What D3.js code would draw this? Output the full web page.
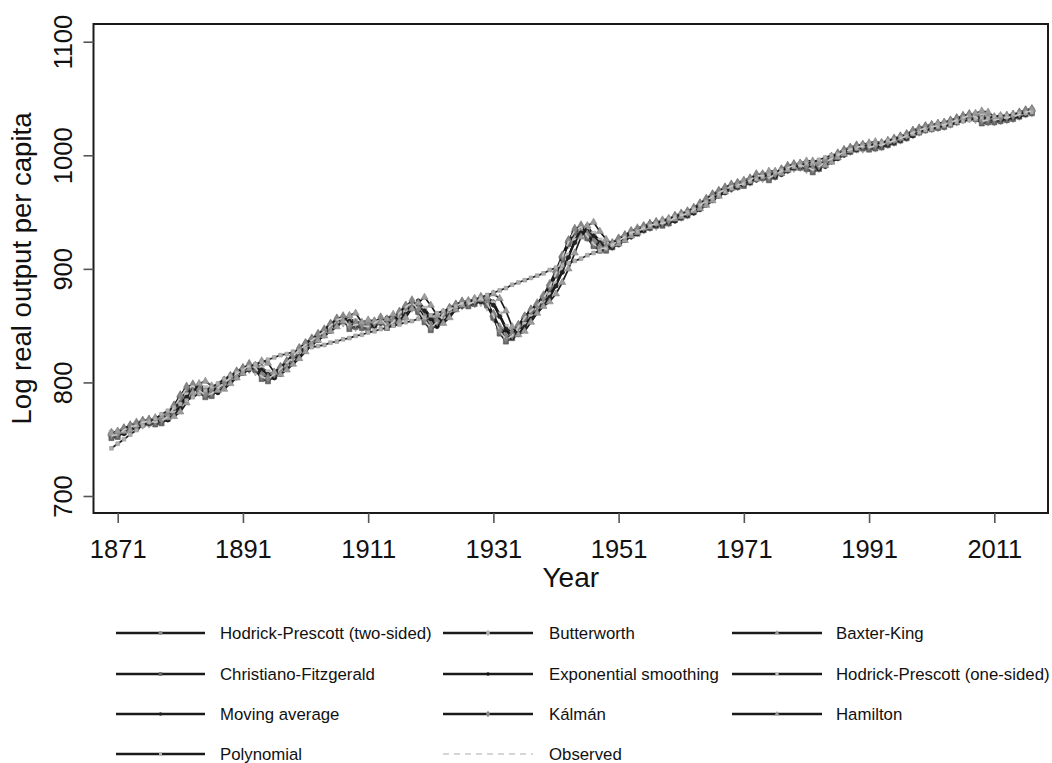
<!DOCTYPE html>
<html>
<head>
<meta charset="utf-8">
<script src="https://cdn.jsdelivr.net/npm/d3@7"></script>
<style>
  body { margin: 0; background: #fff; }
  svg { display: block; font-family: "Liberation Sans", Arial, sans-serif; }
</style>
</head>
<body>
<svg id="chart" width="1052" height="763"></svg>
<script>
// Years covered by every series
const years = d3.range(1870, 2018);

// Trend estimates of log real output per capita (x100)
const hpTwoSided = [
  754,755,758,760,763,764,765,766,767,771,
  778,787,793,795,793,791,791,795,800,804,
  808,811,813,811,807,805,807,812,817,823,
  828,833,837,841,845,850,854,854,852,850,
  850,850,852,853,853,855,860,866,867,863,
  856,852,854,859,864,867,869,870,871,872,
  868,858,847,841,843,849,856,862,868,875,
  885,897,910,923,932,933,929,923,919,919,
  921,925,928,931,934,936,938,939,941,942,
  945,947,949,952,956,960,964,967,970,972,
  974,976,978,981,981,982,983,986,989,990,
  991,989,989,990,994,997,1000,1003,1005,1007,
  1007,1008,1008,1009,1011,1013,1015,1017,1020,1022,
  1024,1025,1026,1027,1029,1031,1033,1034,1033,1032,
  1031,1031,1032,1033,1034,1036,1038,1039];

const butterworth = [
  753,754,757,759,762,763,764,765,766,770,
  777,786,792,794,792,790,790,794,799,803,
  807,810,812,810,806,804,806,811,816,822,
  827,832,836,840,844,849,853,853,851,849,
  849,849,851,852,852,854,859,865,866,862,
  855,851,853,858,863,866,868,869,870,871,
  867,857,846,840,842,848,855,861,867,874,
  884,896,909,922,931,932,928,922,918,918,
  920,924,927,930,933,935,937,938,940,941,
  944,946,948,951,955,959,963,966,969,971,
  973,975,977,980,980,981,982,985,988,989,
  990,988,988,989,993,996,999,1002,1004,1006,
  1006,1007,1007,1008,1010,1012,1014,1016,1019,1021,
  1023,1024,1025,1026,1028,1030,1032,1033,1032,1031,
  1030,1030,1031,1032,1033,1035,1037,1038];

const baxterKing = [
  756,757,760,762,765,766,767,768,769,773,
  780,789,795,797,795,793,793,797,802,806,
  810,813,815,813,809,807,809,814,819,825,
  830,835,839,843,847,852,856,856,854,852,
  852,852,854,855,855,857,862,868,869,865,
  858,854,856,861,866,869,871,872,873,874,
  870,860,849,843,845,851,858,864,870,877,
  887,899,912,925,934,935,931,925,921,921,
  923,927,930,933,936,938,940,941,943,944,
  947,949,951,954,958,962,966,969,972,974,
  976,978,980,983,983,984,985,988,991,992,
  993,991,991,992,996,999,1002,1005,1007,1009,
  1009,1010,1010,1011,1013,1015,1017,1019,1022,1024,
  1026,1027,1028,1029,1031,1033,1035,1036,1035,1034,
  1033,1033,1034,1035,1036,1038,1040,1041];

const christianoFitzgerald = [
  751,752,756,759,760,763,764,763,764,768,
  776,785,793,795,791,787,788,793,798,802,
  806,809,813,811,803,801,805,810,815,821,
  827,831,835,839,843,848,853,855,847,849,
  848,847,850,854,848,851,859,864,869,862,
  853,846,851,858,862,865,868,867,869,872,
  868,857,843,836,839,847,855,861,865,872,
  882,894,908,922,932,935,927,920,916,916,
  919,923,926,930,931,934,936,938,938,940,
  943,945,947,950,954,958,962,965,968,971,
  972,973,976,980,980,978,981,984,987,989,
  989,988,985,988,992,995,998,1001,1003,1005,
  1006,1005,1006,1007,1009,1011,1013,1015,1018,1020,
  1022,1023,1024,1025,1027,1029,1031,1033,1032,1028,
  1029,1029,1030,1031,1032,1034,1036,1037];

const expSmoothing = [
  753,754,755,759,762,763,766,767,766,767,
  771,779,788,796,798,794,790,791,796,801,
  805,809,812,816,814,806,804,808,813,818,
  824,830,834,838,842,846,851,856,858,850,
  852,851,850,853,857,851,854,862,867,872,
  865,856,849,854,861,865,868,871,870,872,
  875,871,860,846,839,842,850,858,864,868,
  875,885,897,911,925,935,938,930,923,919,
  919,922,926,929,933,934,937,939,941,941,
  943,946,948,950,953,957,961,965,968,971,
  974,975,976,979,983,983,981,984,987,990,
  992,992,991,988,991,995,998,1001,1004,1006,
  1008,1009,1008,1009,1010,1012,1014,1016,1018,1021,
  1023,1025,1026,1027,1028,1030,1032,1034,1036,1035,
  1031,1032,1032,1033,1034,1035,1037,1039];

const hpOneSided = [
  756,756,757,760,762,765,766,767,768,769,
  773,780,789,795,797,795,793,793,797,802,
  806,810,813,815,813,809,807,809,814,819,
  825,830,835,839,843,847,852,856,856,854,
  852,852,852,854,855,855,857,862,868,869,
  865,858,854,856,861,866,869,871,872,873,
  874,870,860,849,843,845,851,858,864,870,
  877,887,899,912,925,934,935,931,925,921,
  921,923,927,930,933,936,938,940,941,943,
  944,947,949,951,954,958,962,966,969,972,
  974,976,978,980,983,983,984,985,988,991,
  992,993,991,991,992,996,999,1002,1005,1007,
  1009,1009,1010,1010,1011,1013,1015,1017,1019,1022,
  1024,1026,1027,1028,1029,1031,1033,1035,1036,1035,
  1034,1033,1033,1034,1035,1036,1038,1040];

const movingAverage = [
  754,754,755,758,760,763,764,765,766,767,
  771,778,787,793,795,793,791,791,795,800,
  804,808,811,813,811,807,805,807,812,817,
  823,828,833,837,841,845,850,854,854,852,
  850,850,850,852,853,853,855,860,866,867,
  863,856,852,854,859,864,867,869,870,871,
  872,868,858,847,841,843,849,856,862,868,
  875,885,897,910,923,932,933,929,923,919,
  919,921,925,928,931,934,936,938,939,941,
  942,945,947,949,952,956,960,964,967,970,
  972,974,976,978,981,981,982,983,986,989,
  990,991,989,989,990,994,997,1000,1003,1005,
  1007,1007,1008,1008,1009,1011,1013,1015,1017,1020,
  1022,1024,1025,1026,1027,1029,1031,1033,1034,1033,
  1032,1031,1031,1032,1033,1034,1036,1038];

const kalman = [
  754,755,759,762,763,766,767,766,767,771,
  779,788,796,798,794,790,791,796,801,805,
  809,812,816,814,806,804,808,813,818,824,
  830,834,838,842,846,851,856,858,850,852,
  851,850,853,857,851,854,862,867,872,865,
  856,849,854,861,865,868,871,870,872,875,
  871,860,846,839,842,850,858,864,868,875,
  885,897,911,925,935,938,930,923,919,919,
  922,926,929,933,934,937,939,941,941,943,
  946,948,950,953,957,961,965,968,971,974,
  975,976,979,983,983,981,984,987,990,992,
  992,991,988,991,995,998,1001,1004,1006,1008,
  1009,1008,1009,1010,1012,1014,1016,1018,1021,1023,
  1025,1026,1027,1028,1030,1032,1034,1036,1035,1031,
  1032,1032,1033,1034,1035,1037,1039,1040];

const hamilton = [
  755,757,757,758,762,765,766,769,770,769,
  770,774,782,791,799,801,797,793,794,799,
  804,808,812,815,819,817,809,807,811,816,
  821,827,833,837,841,845,849,854,859,861,
  853,855,854,853,856,860,854,857,865,870,
  875,868,859,852,857,864,868,871,874,873,
  875,878,874,863,849,842,845,853,861,867,
  871,878,888,900,914,928,938,941,933,926,
  922,922,925,929,932,936,937,940,942,944,
  944,946,949,951,953,956,960,964,968,971,
  974,977,978,979,982,986,986,984,987,990,
  993,995,995,994,991,994,998,1001,1004,1007,
  1009,1011,1012,1011,1012,1013,1015,1017,1019,1021,
  1024,1026,1028,1029,1030,1031,1033,1035,1037,1039,
  1038,1034,1035,1035,1036,1037,1038,1040];

const polynomial = [
  742,746,750,754,758,762,765,768,772,775,
  778,781,784,787,790,793,796,799,803,806,
  809,811,814,816,818,820,822,824,825,827,
  828,830,831,832,833,835,836,838,839,841,
  842,844,845,847,848,850,851,853,854,856,
  857,859,861,863,865,867,869,871,873,875,
  877,879,881,883,886,888,890,892,894,896,
  899,901,903,905,907,909,912,914,916,918,
  921,924,928,931,933,936,938,940,942,944,
  946,948,950,953,956,959,962,965,968,971,
  973,975,977,979,981,983,985,987,988,990,
  991,993,994,996,998,1000,1001,1003,1005,1006,
  1008,1009,1010,1011,1013,1014,1016,1017,1019,1020,
  1022,1023,1025,1026,1027,1029,1030,1031,1032,1033,
  1033,1034,1035,1035,1036,1037,1037,1038];

// Observed log real output per capita (x100)
const observed = [
  753,754,758,761,762,765,766,765,766,770,
  778,787,795,797,793,789,790,795,800,804,
  808,811,815,813,805,803,807,812,817,823,
  829,833,837,841,845,850,855,857,849,851,
  850,849,852,856,850,853,861,866,871,864,
  855,848,853,860,864,867,870,869,871,874,
  870,859,845,838,841,849,857,863,867,874,
  884,896,910,924,934,937,929,922,918,918,
  921,925,928,932,933,936,938,940,940,942,
  945,947,949,952,956,960,964,967,970,973,
  974,975,978,982,982,980,983,986,989,991,
  991,990,987,990,994,997,1000,1003,1005,1007,
  1008,1007,1008,1009,1011,1013,1015,1017,1020,1022,
  1024,1025,1026,1027,1029,1031,1033,1035,1034,1030,
  1031,1031,1032,1033,1034,1036,1038,1039];

const xTicks = [1871, 1891, 1911, 1931, 1951, 1971, 1991, 2011];
const yTicks = [700, 800, 900, 1000, 1100];

const seriesLabels = [
  "Hodrick-Prescott (two-sided)", "Butterworth", "Baxter-King",
  "Christiano-Fitzgerald", "Exponential smoothing", "Hodrick-Prescott (one-sided)",
  "Moving average", "Kálmán", "Hamilton",
  "Polynomial", "Observed"
];
const seriesValues = [
  hpTwoSided, butterworth, baxterKing,
  christianoFitzgerald, expSmoothing, hpOneSided,
  movingAverage, kalman, hamilton,
  polynomial, observed
];

// Line and marker styling per series (same order as the labels)
const styles = [
  { shape: d3.symbolCircle,   size: 28, fill: "#8a8a8a" },
  { shape: d3.symbolDiamond,  size: 28, fill: "#b4b4b4" },
  { shape: d3.symbolTriangle, size: 24, fill: "#9a9a9a" },
  { shape: d3.symbolSquare,   size: 26, fill: "#666666" },
  { shape: d3.symbolCircle,   size: 12, fill: "#111111" },
  { shape: d3.symbolSquare,   size: 22, fill: "#c2c2c2" },
  { shape: d3.symbolCircle,   size: 14, fill: "#222222" },
  { shape: d3.symbolDiamond,  size: 28, fill: "#888888" },
  { shape: d3.symbolTriangle, size: 22, fill: "#9c9c9c" },
  { shape: d3.symbolSquare,   size: 14, fill: "#b0b0b0" },
  { dashed: true }
];

const svg = d3.select("#chart");
svg.append("rect").attr("width", 1052).attr("height", 763).attr("fill", "#fff");

const box = { left: 93.5, right: 1048, top: 24, bottom: 513 };
const x = d3.scaleLinear().domain([1871, 2011]).range([117.7, 994.3]);
const y = d3.scaleLinear().domain([700, 1100]).range([496, 41.7]);

// Series
const plot = svg.append("g");
const line = d3.line()
  .defined(d => d != null)
  .x(d => x(d.year))
  .y(d => y(d.value));

seriesValues.forEach((vals, k) => {
  const st = styles[k];
  const pts = vals.map((v, i) => ({ year: years[i], value: v }));
  const g = plot.append("g");
  if (st.dashed) {
    g.append("path").datum(pts).attr("d", line)
      .attr("fill", "none").attr("stroke", "#c8c8c8")
      .attr("stroke-width", 1.6).attr("stroke-dasharray", "6,5");
    return;
  }
  g.append("path").datum(pts).attr("d", line)
    .attr("fill", "none").attr("stroke", "#1a1a1a")
    .attr("stroke-width", 1.7).attr("stroke-linejoin", "round");
  const sym = d3.symbol().type(st.shape).size(st.size);
  g.selectAll("path.m").data(pts).join("path").attr("class", "m")
    .attr("transform", d => `translate(${x(d.year)},${y(d.value)})`)
    .attr("d", sym)
    .attr("fill", st.fill)
    .attr("stroke", d3.color(st.fill).darker(0.5))
    .attr("stroke-width", 0.6);
});

// Frame
svg.append("rect")
  .attr("x", box.left).attr("y", box.top)
  .attr("width", box.right - box.left).attr("height", box.bottom - box.top)
  .attr("fill", "none").attr("stroke", "#1a1a1a").attr("stroke-width", 2);

// X axis
const xAxis = svg.append("g")
  .attr("transform", `translate(0,${box.bottom})`)
  .call(d3.axisBottom(x).tickValues(xTicks).tickSize(10).tickFormat(d3.format("d")));
xAxis.select(".domain").remove();
xAxis.selectAll(".tick line").attr("stroke", "#555").attr("stroke-width", 1.6);
xAxis.selectAll(".tick text")
  .attr("y", 45).attr("dy", 0)
  .attr("fill", "#111")
  .style("font-size", "25.5px")
  .style("font-family", "'Liberation Sans', Arial, sans-serif");

// Y axis
const yAxis = svg.append("g")
  .attr("transform", `translate(${box.left},0)`)
  .call(d3.axisLeft(y).tickValues(yTicks).tickSize(10).tickFormat(d3.format("d")));
yAxis.select(".domain").remove();
yAxis.selectAll(".tick line").attr("stroke", "#555").attr("stroke-width", 1.6);
yAxis.selectAll(".tick text")
  .attr("x", 0).attr("y", -21.5).attr("dy", 0)
  .attr("transform", "rotate(-90)")
  .attr("text-anchor", "middle")
  .attr("fill", "#111")
  .style("font-size", "25.5px")
  .style("font-family", "'Liberation Sans', Arial, sans-serif");

// Axis titles
svg.append("text")
  .attr("transform", `translate(31,${(box.top + box.bottom) / 2}) rotate(-90)`)
  .attr("text-anchor", "middle")
  .attr("fill", "#111")
  .style("font-size", "27.5px")
  .text("Log real output per capita");

svg.append("text")
  .attr("x", (box.left + box.right) / 2).attr("y", 587)
  .attr("text-anchor", "middle")
  .attr("fill", "#111")
  .style("font-size", "28px")
  .text("Year");

// Legend: three columns, filled row by row
const legendCols = [
  { x0: 116, x1: 205, tx: 220 },
  { x0: 443, x1: 533, tx: 549 },
  { x0: 732, x1: 822, tx: 836 }
];
const legendRowY = [633, 674, 714, 754];
const legend = svg.append("g");
seriesLabels.forEach((label, k) => {
  const col = legendCols[k % 3];
  const ry = legendRowY[Math.floor(k / 3)];
  const st = styles[k];
  const item = legend.append("g");
  if (st.dashed) {
    item.append("line")
      .attr("x1", col.x0).attr("x2", col.x1).attr("y1", ry).attr("y2", ry)
      .attr("stroke", "#c8c8c8").attr("stroke-width", 1.6).attr("stroke-dasharray", "6,5");
  } else {
    item.append("line")
      .attr("x1", col.x0).attr("x2", col.x1).attr("y1", ry).attr("y2", ry)
      .attr("stroke", "#1a1a1a").attr("stroke-width", 2.4);
    item.append("path")
      .attr("transform", `translate(${(col.x0 + col.x1) / 2},${ry})`)
      .attr("d", d3.symbol().type(st.shape).size(Math.max(st.size * 0.5, 9))())
      .attr("fill", st.fill);
  }
  item.append("text")
    .attr("x", col.tx).attr("y", ry + 6)
    .attr("fill", "#111")
    .style("font-size", "16.8px")
    .text(label);
});
</script>
</body>
</html>
